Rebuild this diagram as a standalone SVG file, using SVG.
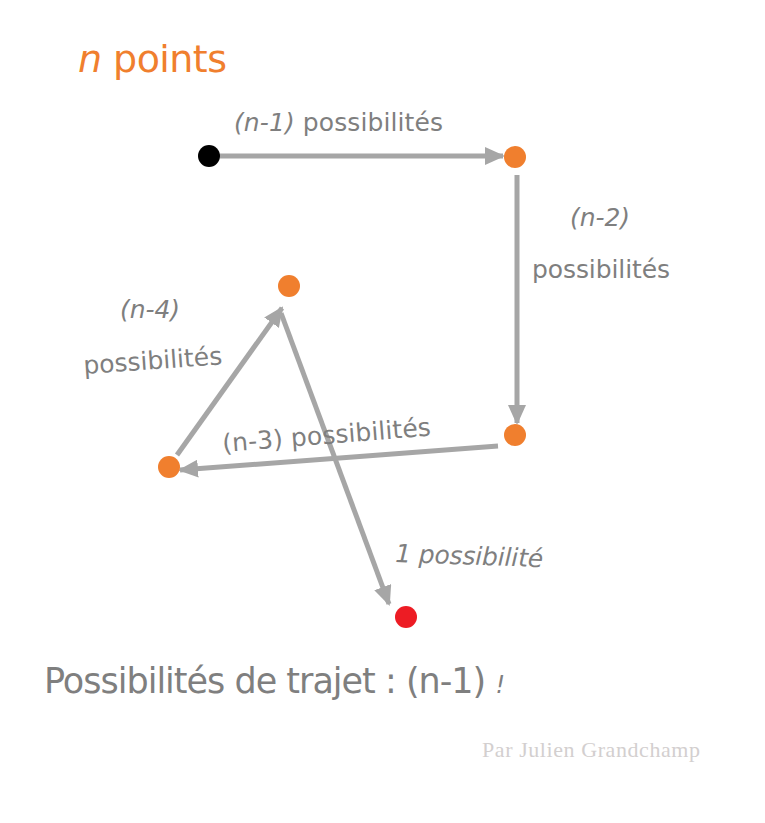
<svg xmlns="http://www.w3.org/2000/svg" width="765" height="823" viewBox="0 0 765 823">
<defs>
<marker id="ah" markerUnits="userSpaceOnUse" markerWidth="20" markerHeight="18" viewBox="0 0 20 18" refX="18" refY="9" orient="auto">
<path d="M0,0 L20,9 L0,18 Z" fill="#A6A6A6"/>
</marker>
<style>
.t{font-family:"DejaVu Sans","Noto Sans",sans-serif;fill:#7F7F7F;}
.i{font-style:italic;}
.c{stroke:#A6A6A6;stroke-width:5;fill:none;marker-end:url(#ah);}
.o{fill:#F07F2E;}
</style>
</defs>
<rect width="765" height="823" fill="#FFFFFF"/>
<text x="78" y="72" font-size="38" class="t" style="fill:#F07F2E" textLength="149"><tspan class="i">n</tspan> points</text>
<g id="connectors">
<line class="c" x1="220" y1="156" x2="503" y2="156"/>
<line class="c" x1="517" y1="175" x2="517" y2="423"/>
<line class="c" x1="498" y1="446" x2="180" y2="470"/>
<line class="c" x1="177" y1="455" x2="282" y2="308"/>
<line class="c" x1="281" y1="313" x2="389" y2="604"/>
</g>
<g id="n0"><circle cx="209" cy="156" r="11" fill="#000000"/></g>
<g id="n1"><circle cx="515" cy="157" r="11" class="o"/></g>
<g id="n2"><circle cx="515" cy="435" r="11" class="o"/></g>
<g id="n3"><circle cx="169" cy="467" r="11" class="o"/></g>
<g id="n4"><circle cx="289" cy="286" r="11" class="o"/></g>
<g id="n5"><circle cx="406" cy="617" r="11" fill="#ED1C24"/></g>
<g id="labels">
<text x="234" y="131" font-size="25" class="t" textLength="209"><tspan class="i">(n-1)</tspan> possibilités</text>
<text x="570" y="226" font-size="25" class="t i" textLength="60">(n-2)</text>
<text x="532" y="278" font-size="25" class="t" textLength="138">possibilités</text>
<text x="223" y="452" font-size="25" class="t" textLength="209" transform="rotate(-4.5 223 452)">(n-3) possibilités</text>
<text x="120" y="318" font-size="25" class="t i" textLength="60">(n-4)</text>
<text x="84" y="374" font-size="25" class="t" textLength="139" transform="rotate(-4 84 374)">possibilités</text>
<text x="395" y="562" font-size="25" class="t i" textLength="148" transform="rotate(2 395 562)">1 possibilité</text>
<text x="44" y="693" font-size="35" class="t" textLength="461">Possibilités de trajet : (n-1) <tspan class="i" font-size="24">!</tspan></text>
<text x="482" y="757" font-size="22" style="font-family:'Liberation Serif',serif;fill:#D3CFCF" textLength="218">Par Julien Grandchamp</text>
</g>
</svg>
